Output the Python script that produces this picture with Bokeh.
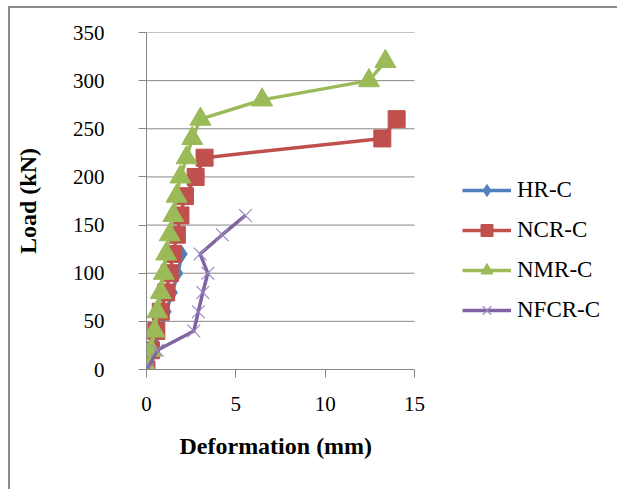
from bokeh.plotting import figure
from bokeh.models import Legend, LegendItem, FixedTicker, Range1d, Title
from bokeh.embed import file_html
from bokeh.resources import INLINE

# ---- data (load in kN vs deformation in mm) ----
series_names = ["HR-C", "NCR-C", "NMR-C", "NFCR-C"]

hr_load = [0, 20, 40, 60, 80, 100, 120]
hr_def = [0.0, 0.4, 0.75, 1.1, 1.45, 1.75, 2.0]

ncr_load = [0, 20, 40, 60, 80, 100, 120, 140, 160, 180, 200, 220, 240, 260]
ncr_def = [0.0, 0.25, 0.55, 0.8, 1.1, 1.3, 1.5, 1.7, 1.9, 2.15, 2.75, 3.25, 13.2, 14.0]

nmr_load = [0, 20, 40, 60, 80, 100, 120, 140, 160, 180, 200, 220, 240, 260, 280, 300, 320]
nmr_def = [0.1, 0.25, 0.45, 0.6, 0.8, 0.97, 1.1, 1.3, 1.5, 1.68, 1.9, 2.24, 2.56, 3.02, 6.47, 12.45, 13.37]

nfcr_load = [0, 20, 40, 60, 80, 100, 120, 140, 160]
nfcr_def = [0.05, 0.6, 2.65, 2.9, 3.15, 3.43, 3.0, 4.24, 5.54]

x_ticks = [0, 5, 10, 15]
y_ticks = [0, 50, 100, 150, 200, 250, 300, 350]
x_min, x_max = x_ticks[0], x_ticks[-1]

colors = ["#4F81BD", "#C0504D", "#9BBB59", "#8064A2"]
FONT = "Liberation Serif"
GREY = "#878787"

# plot area spans 0..15 on 268 px; the frame is widened to the right so the
# legend (drawn inside the frame) sits where the original legend is
x_view_end = x_max * 473 / 268

p = figure(width=609, height=483, output_backend="svg", toolbar_location=None,
           x_range=Range1d(x_min, x_view_end), y_range=Range1d(0, 350),
           min_border_left=136, min_border_right=0, min_border_top=24, min_border_bottom=122)
p.styles = {"margin-left": "8px", "margin-top": "6px",
            "border-left": "2px solid #8c8c8c", "border-top": "2px solid #8c8c8c"}
p.outline_line_color = None
p.background_fill_color = "white"
p.border_fill_color = "white"

# axes
p.xaxis.ticker = FixedTicker(ticks=x_ticks)
p.yaxis.ticker = FixedTicker(ticks=y_ticks)
p.xaxis.bounds = (x_min, x_max)
for ax in (p.xaxis[0], p.yaxis[0]):
    ax.axis_line_color = GREY
    ax.major_tick_line_color = GREY
    ax.major_tick_out = 8
    ax.major_tick_in = 0
    ax.minor_tick_line_color = None
    ax.major_label_text_font = FONT
    ax.major_label_text_font_size = "21px"
    ax.major_label_text_color = "black"
    ax.axis_label_text_font = FONT
    ax.axis_label_text_font_size = "24px"
    ax.axis_label_text_font_style = "bold"
    ax.axis_label_text_color = "black"
p.yaxis.axis_label = "Load (kN)"
p.xaxis.major_label_standoff = 19
p.yaxis.major_label_standoff = 34
p.yaxis.axis_label_standoff = 29

# x axis title, centred under the 0..15 plot area
xt = Title(text="Deformation (mm)", align="left", offset=33, standoff=35,
           text_font=FONT, text_font_size="24px", text_font_style="bold", text_color="black")
p.add_layout(xt, "below")

# horizontal gridlines only across the 0..15 plot area
p.xgrid.grid_line_color = None
p.ygrid.grid_line_color = None
p.segment(x0=[x_min] * len(y_ticks), x1=[x_max] * len(y_ticks), y0=y_ticks, y1=y_ticks,
          line_color=GREY, line_width=1)

# series
data = [(hr_def, hr_load), (ncr_def, ncr_load), (nmr_def, nmr_load), (nfcr_def, nfcr_load)]
markers = ["diamond", "square", "triangle", "x"]
sizes = [15, 17, 21, 18]
items = []
for (xs, ys), name, c, m, s in zip(data, series_names, colors, markers, sizes):
    ln = p.line(xs, ys, line_color=c, line_width=3.5)
    if m == "x":
        sc = p.scatter(xs, ys, marker=m, size=s, line_color="#9a86c0", line_width=1.2)
    else:
        sc = p.scatter(xs, ys, marker=m, size=s, fill_color=c, line_color=c, line_width=1)
    items.append(LegendItem(label=name, renderers=[ln, sc]))

legend = Legend(items=items, location=(316, 44), glyph_width=49, glyph_height=30,
                label_height=30, spacing=10, label_standoff=6, padding=0, margin=0,
                border_line_color=None, background_fill_alpha=0,
                label_text_font=FONT, label_text_font_size="23px", label_text_color="black")
p.add_layout(legend, "center")

open("out.html", "w").write(file_html(p, INLINE))
